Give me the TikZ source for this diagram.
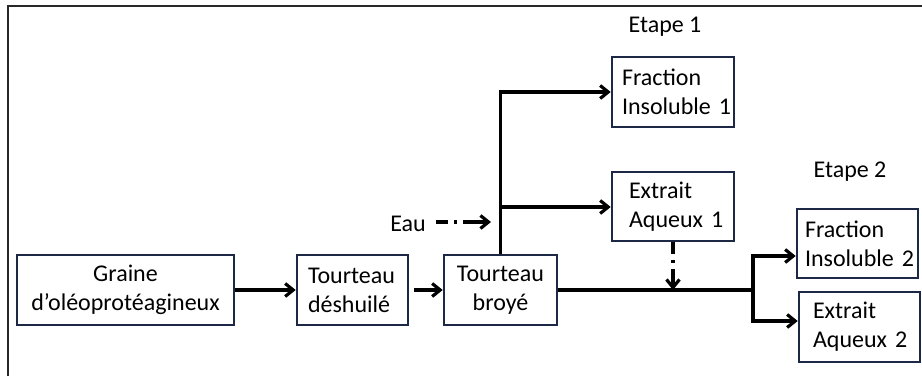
\documentclass[tikz,border=0pt]{standalone}
\usepackage{fontspec}
\setmainfont{Carlito}
\usetikzlibrary{arrows.meta,calc}
\definecolor{boxcol}{RGB}{28,40,70}
\definecolor{framecol}{RGB}{40,40,40}
\begin{document}
\begin{tikzpicture}[x=1pt,y=-1pt,
  every node/.style={font=\fontsize{24}{29}\selectfont},
  box/.style={draw=boxcol,line width=2.6pt,fill=white,minimum height=70pt,inner ysep=0pt},
  lbox/.style={box,align=left},
  cbox/.style={box,align=center},
  arr/.style={line width=3.2pt,-{Straight Barb[length=8pt,width=13pt]}},
  ln/.style={line width=3.2pt},
  dd/.style={arr,dash pattern=on 12pt off 6pt on 3pt off 6pt on 60pt}]
\useasboundingbox (0,0) rectangle (922,376);
\draw[framecol,line width=2.4pt] (8,376) -- (8,6) -- (922,6);
\node[cbox,minimum width=217pt] (g) at (125.5,290) {Graine\\d’oléoprotéagineux};
\node[lbox,text width=89pt,inner xsep=11pt] (d) at (352.5,290) {Tourteau\\déshuilé};
\node[cbox,minimum width=113pt] (b) at (500.5,290) {Tourteau\\broyé};
\node[lbox,text width=102pt,inner xsep=10pt] (fi1) at (673,92) {Fraction\\Insoluble~1};
\node[lbox,text width=88pt,inner xsep=17pt,minimum height=69pt] (ea1) at (673,206.5) {Extrait\\Aqueux~1};
\node[lbox,text width=105pt,inner xsep=8pt,minimum height=69pt] (fi2) at (857.5,243.5) {Fraction\\Insoluble~2};
\node[lbox,text width=93pt,inner xsep=14pt] (ea2) at (859.5,327) {Extrait\\Aqueux~2};
\node (e1) at (665,27) {Etape 1};
\node (e2) at (850,172) {Etape 2};
\node[inner sep=0pt] (eau) at (408,224) {Eau};
\coordinate (eauEnd) at (491,222);
\coordinate (br) at (501,207);
\coordinate (s) at (753,290);
\draw[arr] (g.east) -- (d.west);
\draw[arr] ($(d.east)+(5,0)$) -- (b.west);
\draw[arr] (b.north) |- (fi1.west);
\draw[arr] (br) -- (ea1.west |- br);
\draw[dd] ($(eau.east)+(10,-2)$) -- (eauEnd);
\draw[ln] (b.east) -- (s);
\draw[arr] ($(s)+(0,1.6)$) |- ($(fi2.west)+(0,12.5)$);
\draw[arr] ($(s)+(0,-1.6)$) |- ($(ea2.west)+(0,-6)$);
\draw[dd] (ea1.south) -- (ea1.south |- s);
\end{tikzpicture}
\end{document}
